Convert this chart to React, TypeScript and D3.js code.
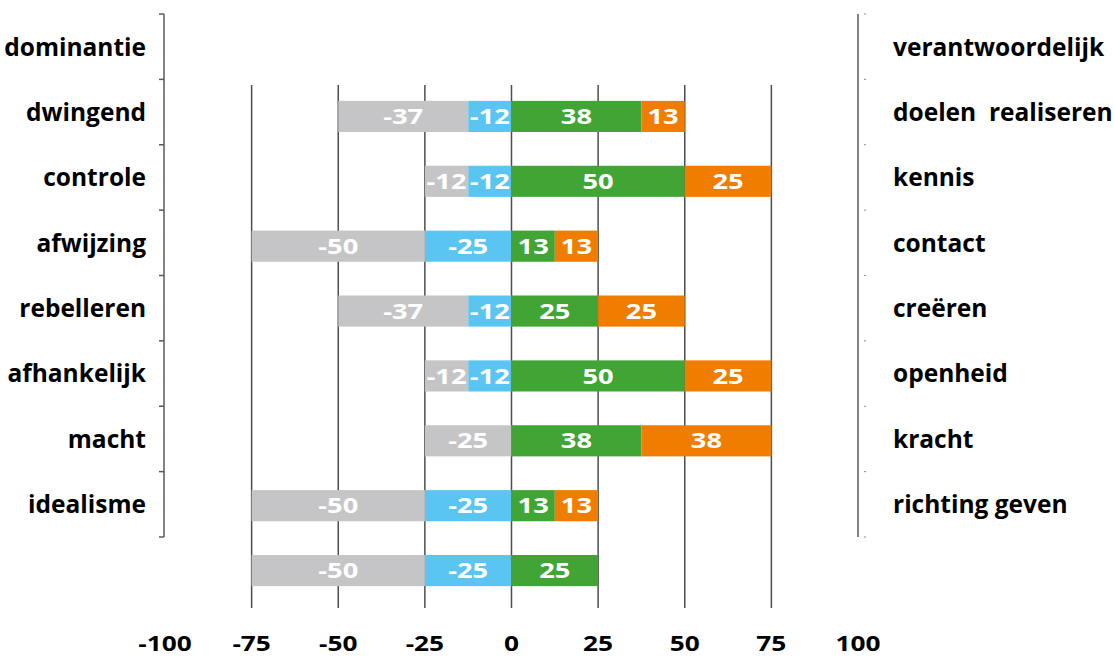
import { useEffect, useRef } from 'react'
import * as d3 from 'd3'

// left and right category labels (top to bottom)
const leftLabels = ['dominantie', 'dwingend', 'controle', 'afwijzing', 'rebelleren', 'afhankelijk', 'macht', 'idealisme']
const rightLabels = ['verantwoordelijk', 'doelen  realiseren', 'kennis', 'contact', 'creëren', 'openheid', 'kracht', 'richting geven']

// series values per bar row
const greyValues = [-37.5, -12.5, -50, -37.5, -12.5, -25, -50, -50]
const blueValues = [-12.5, -12.5, -25, -12.5, -12.5, 0, -25, -25]
const greenValues = [37.5, 50, 12.5, 25, 50, 37.5, 12.5, 25]
const orangeValues = [12.5, 25, 12.5, 25, 25, 37.5, 12.5, 0]

const xTicks = [-100, -75, -50, -25, 0, 25, 50, 75, 100]
const gridTicks = [-75, -50, -25, 0, 25, 50, 75]

const seriesKeys = ['blue', 'grey', 'green', 'orange']
const colors: any = { grey: '#c5c5c7', blue: '#5bc5f2', green: '#40a535', orange: '#f07d00' }

const font = '"Open Sans", sans-serif'
// numbers in the reference are drawn wide
const stretch = 1.3

export default function App() {
	const ref = useRef(null)

	useEffect(() => {
		const svg = d3.select(ref.current)
		svg.selectAll('*').remove()

		const x = d3.scaleLinear().domain([-100, 100]).range([165, 858])
		const yBar = d3.scaleBand().domain(leftLabels).range([84, 603]).paddingInner(0.52).paddingOuter(0.26)
		const yLab = d3.scaleBand().domain(leftLabels).range([14, 537])

		const table = leftLabels.map((c, i) => ({
			cat: c,
			grey: greyValues[i],
			blue: blueValues[i],
			green: greenValues[i],
			orange: orangeValues[i],
		}))

		// gridlines
		svg
			.append('g')
			.selectAll('line')
			.data(gridTicks)
			.enter()
			.append('line')
			.attr('x1', (d) => x(d))
			.attr('x2', (d) => x(d))
			.attr('y1', 85)
			.attr('y2', 608)
			.attr('stroke', '#4d4d4d')
			.attr('stroke-width', 1.5)

		// stacked bars
		const stacked = d3.stack().keys(seriesKeys).offset(d3.stackOffsetDiverging)(table as any)
		const groups = svg
			.append('g')
			.selectAll('g')
			.data(stacked)
			.enter()
			.append('g')
			.attr('fill', (s: any) => colors[s.key])

		groups
			.selectAll('rect')
			.data((s: any) => s.map((d: any) => ({ d, key: s.key })))
			.enter()
			.append('rect')
			.attr('x', (p: any) => x(Math.min(p.d[0], p.d[1])))
			.attr('width', (p: any) => Math.abs(x(p.d[1]) - x(p.d[0])))
			.attr('y', (p: any) => yBar(p.d.data.cat)!)
			.attr('height', yBar.bandwidth())

		groups
			.selectAll('text')
			.data((s: any) => s.map((d: any) => ({ d, key: s.key })).filter((p: any) => p.d.data[p.key] !== 0))
			.enter()
			.append('text')
			.attr('transform', (p: any) => {
				const cx = (x(p.d[0]) + x(p.d[1])) / 2
				const cy = yBar(p.d.data.cat)! + yBar.bandwidth() / 2
				return `translate(${cx},${cy}) scale(${stretch},1)`
			})
			.attr('dy', '0.36em')
			.attr('text-anchor', 'middle')
			.attr('fill', '#fff')
			.style('font', `bold 21px ${font}`)
			.text((p: any) => String(Math.round(p.d.data[p.key])))

		// left axis
		const boundaries = leftLabels.map((c) => yLab(c)!).concat([537])
		svg.append('line').attr('x1', 164).attr('x2', 164).attr('y1', 14).attr('y2', 537).attr('stroke', '#595959').attr('stroke-width', 1.5)
		svg
			.append('g')
			.selectAll('line')
			.data(boundaries)
			.enter()
			.append('line')
			.attr('x1', 159)
			.attr('x2', 164)
			.attr('y1', (d) => d)
			.attr('y2', (d) => d)
			.attr('stroke', '#595959')
			.attr('stroke-width', 1.5)

		// right axis
		svg.append('line').attr('x1', 858).attr('x2', 858).attr('y1', 14).attr('y2', 537).attr('stroke', '#595959').attr('stroke-width', 1.5)
		svg
			.append('g')
			.selectAll('line')
			.data(boundaries)
			.enter()
			.append('line')
			.attr('x1', 864)
			.attr('x2', 866)
			.attr('y1', (d) => d)
			.attr('y2', (d) => d)
			.attr('stroke', '#888')
			.attr('stroke-width', 1)

		// category labels
		svg
			.append('g')
			.selectAll('text')
			.data(leftLabels)
			.enter()
			.append('text')
			.attr('x', 146)
			.attr('y', (d) => yLab(d)! + yLab.bandwidth() / 2)
			.attr('dy', '0.36em')
			.attr('text-anchor', 'end')
			.style('font', `bold 24.5px ${font}`)
			.text((d) => d)

		svg
			.append('g')
			.selectAll('text')
			.data(rightLabels)
			.enter()
			.append('text')
			.attr('x', 893)
			.attr('y', (_, i) => yLab(leftLabels[i])! + yLab.bandwidth() / 2)
			.attr('dy', '0.36em')
			.attr('text-anchor', 'start')
			.style('font', `bold 24.5px ${font}`)
			.style('white-space', 'pre')
			.text((d) => d)

		// x tick labels
		svg
			.append('g')
			.selectAll('text')
			.data(xTicks)
			.enter()
			.append('text')
			.attr('transform', (d) => `translate(${x(d)},651) scale(1.25,1)`)
			.attr('text-anchor', 'middle')
			.style('font', `bold 21px ${font}`)
			.text((d) => String(d))
	}, [])

	return (
		<svg
			ref={ref}
			width={1114}
			height={657}
			style={{ position: 'absolute', left: 0, top: 0, background: '#fff' }}
		/>
	)
}
